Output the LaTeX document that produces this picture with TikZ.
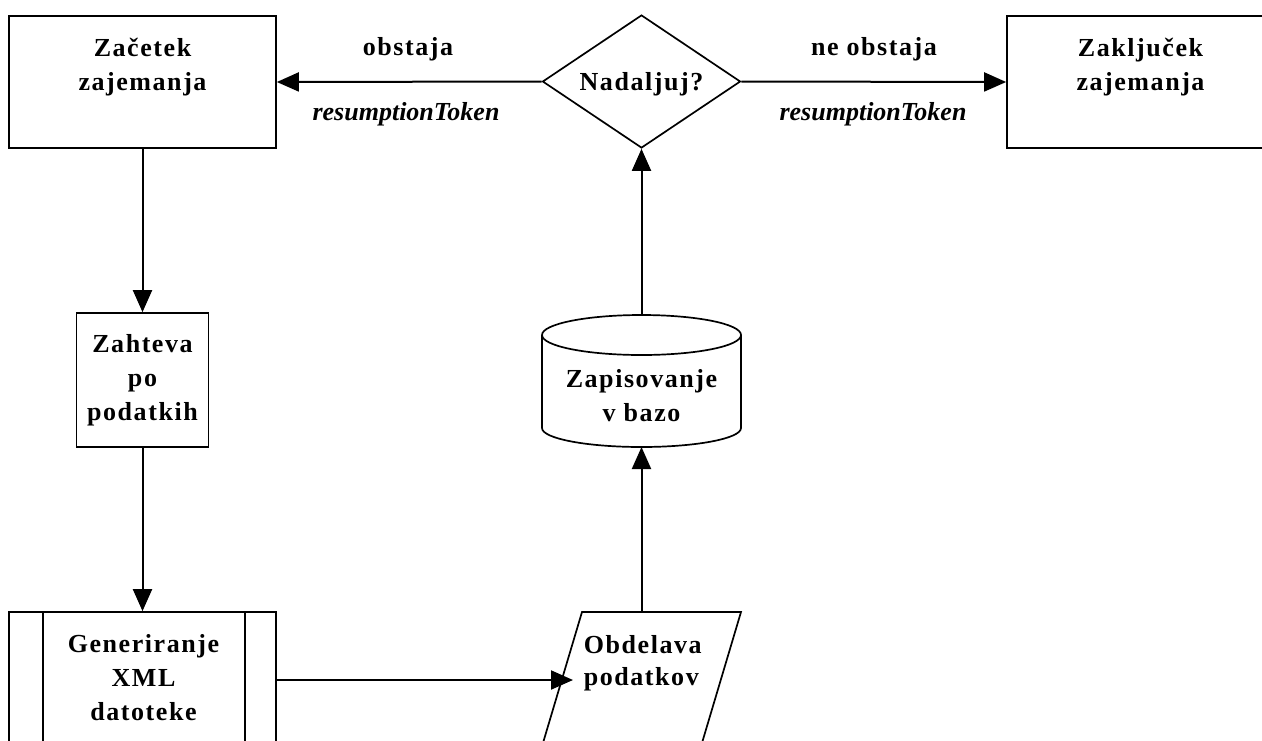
\documentclass[tikz,border=0pt]{standalone}
\usepackage{fontspec}
\setmainfont{Liberation Serif}
\newfontfamily\spaced{Liberation Serif}[LetterSpace=6]
\usetikzlibrary{arrows.meta,shapes.geometric}
\begin{document}
\begin{tikzpicture}[x=1pt,y=-1pt,
  line width=1.7pt,
  box/.style={draw, rectangle, inner sep=0pt},
  lbl/.style={font=\spaced\bfseries\fontsize{26}{34}\selectfont, align=center, inner sep=0pt},
  lbli/.style={font=\bfseries\itshape\fontsize{26}{34}\selectfont, inner sep=0pt},
  arr/.style={draw, line width=2pt, -{Triangle[length=22pt,width=19pt]}}
]
\useasboundingbox (0,0) rectangle (1262,740);
\clip (0,0) rectangle (1262,740);
\fill[white] (0,0) rectangle (1262,740);

% boxes
\node[box, minimum width=267pt, minimum height=132pt] (start) at (142.5,82) {};
\node[lbl, anchor=base] (starttxt) at (142.5,90) {Začetek\\zajemanja};

\node[box, minimum width=267pt, minimum height=132pt] (stop) at (1140.5,82) {};
\node[lbl, anchor=base] (stoptxt) at (1140.5,90) {Zaključek\\zajemanja};

\node[draw, diamond, inner sep=0pt, minimum width=198pt, minimum height=133pt] (dec) at (641.5,81.5) {};
\node[lbl, anchor=base] (dectxt) at (641.5,90) {Nadaljuj?};

\node[box, minimum width=132pt, minimum height=134pt] (req) at (142.5,380) {};
\node[lbl, anchor=base] (reqtxt) at (142.5,420) {Zahteva\\po\\podatkih};

\node[box, minimum width=267pt, minimum height=170pt] (gen) at (142.5,697) {};
\draw (43,612) -- (43,790) (245,612) -- (245,790);
\node[lbl, anchor=base] (gentxt) at (143.5,720) {Generiranje\\XML\\datoteke};

% cylinder
\coordinate (cylTop) at (641.5,315);
\coordinate (cylBot) at (641.5,447);
\draw (542,335) -- (542,428) arc[start angle=180, end angle=360, x radius=99.5pt, y radius=19pt] -- (741,335);
\draw (641.5,335) ellipse [x radius=99.5pt, y radius=20pt];
\node[lbl, anchor=base] (cyltxt) at (641.5,421) {Zapisovanje\\v bazo};

% parallelogram
\coordinate (pTL) at (582,612);
\coordinate (pTR) at (741,612);
\coordinate (pBR) at (685,800);
\coordinate (pBL) at (526,800);
\coordinate (pTop) at (641.5,612);
\coordinate (pIn) at (573,680);
\draw (pBL) -- (pTL) -- (pTR) -- (pBR);
\node[font=\spaced\bfseries\fontsize{26}{32}\selectfont, align=left, inner sep=0pt, anchor=base west] (ptxt) at (583,685) {Obdelava\\podatkov};

% connectors
\draw[arr] (dec.west) -- (start.east);
\draw[arr] (dec.east) -- (stop.west);
\draw[arr] (start.south) -- (req.north);
\draw[arr] (req.south) -- (gen.north);
\draw[arr] (gen.east |- pIn) -- (pIn);
\draw[arr] (pTop) -- (cylBot);
\draw[arr] (cylTop) -- (dec.south);

% edge labels
\node[lbl, anchor=base] (l1) at (408,55) {obstaja};
\node[lbli, anchor=base] (l2) at (406,120) {resumptionToken};
\node[lbl, anchor=base] (l3) at (874,55) {ne obstaja};
\node[lbli, anchor=base] (l4) at (873,120) {resumptionToken};
\end{tikzpicture}
\end{document}
